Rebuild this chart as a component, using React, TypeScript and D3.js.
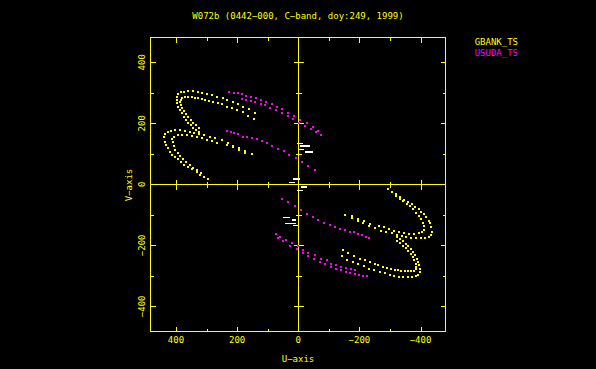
import React from 'react';
import * as d3 from 'd3';

const gbankOuterHigh: [number, number][] = [
  [141.5, 234.8], [160.1, 246.9], [179.7, 254.5], [196.1, 262.3], [214.4, 268.9],
  [232.0, 276.4], [247.1, 282.0], [266.7, 286.3], [283.0, 291.8], [299.3, 296.1],
  [313.7, 300.4], [328.8, 303.6], [343.1, 305.0], [359.5, 305.0], [373.5, 303.6],
  [384.3, 301.7], [392.2, 296.1], [397.4, 287.2], [398.0, 276.4], [395.4, 265.6],
  [392.2, 254.5], [387.6, 243.6], [381.7, 232.8], [375.2, 221.7], [368.0, 211.8],
  [360.5, 202.6], [352.3, 194.4], [344.1, 186.2], [334.3, 179.0], [324.5, 172.5],
];

const gbankInnerHigh: [number, number][] = [
  [144.8, 214.1], [163.4, 224.9], [181.7, 236.1], [201.3, 243.6], [217.6, 249.2],
  [234.0, 254.5], [250.3, 262.3], [261.4, 265.6], [277.8, 270.8], [291.8, 274.1],
  [304.9, 277.4], [315.7, 279.7], [326.8, 282.0], [337.6, 284.0], [348.4, 285.3],
  [359.5, 285.3], [370.3, 285.3], [379.1, 283.0], [384.3, 277.4], [386.6, 269.9],
  [384.3, 260.0], [380.1, 249.2], [374.5, 239.4], [368.0, 229.5], [360.5, 219.7],
  [351.6, 209.9], [343.1, 201.0], [334.3, 193.5], [324.5, 185.6],
];

const gbankOuterLow: [number, number][] = [
  [152.3, 100.3], [174.2, 109.2], [193.8, 119.0], [212.4, 125.6], [230.7, 136.4],
  [250.3, 144.3], [272.2, 151.8], [288.6, 155.1], [307.2, 160.7], [324.5, 165.9],
  [339.9, 169.2], [353.9, 171.5], [370.3, 174.8], [386.6, 177.1], [402.9, 177.1],
  [416.0, 175.8], [426.8, 171.5], [435.6, 165.9], [437.9, 155.1], [435.6, 138.7],
  [432.4, 127.9], [426.8, 119.0], [419.3, 105.9], [411.8, 97.1], [402.9, 89.5],
  [394.1, 82.0], [383.3, 73.1], [372.6, 64.3], [359.5, 56.7], [346.4, 51.2],
  [332.0, 40.3], [321.2, 31.5], [307.2, 23.9], [294.1, 16.4],
];

const gbankInnerLow: [number, number][] = [
  [175.3, 102.6], [194.9, 112.5], [214.4, 121.3], [234.0, 128.9], [265.7, 135.4],
  [282.0, 141.0], [298.4, 146.9], [314.7, 151.8], [331.0, 156.1], [347.4, 159.4],
  [363.7, 161.7], [380.1, 162.6], [394.8, 160.7], [406.2, 156.7], [411.8, 148.5],
  [411.1, 137.1], [407.8, 125.6], [402.9, 114.1], [394.8, 102.6], [386.6, 92.8],
  [376.8, 82.0], [367.0, 72.1], [355.6, 63.3], [344.1, 55.1], [332.7, 46.9],
  [319.6, 38.7],
];

const usudaHighA: [number, number][] = [
  [225.5, 301.7], [211.8, 300.4], [198.0, 298.4], [185.0, 295.1], [169.9, 290.5],
  [154.6, 287.2], [139.2, 282.0], [122.9, 276.4], [106.5, 270.8], [86.9, 262.3],
  [70.6, 254.5], [52.3, 245.9], [32.7, 234.8], [14.1, 224.0], [-5.6, 210.9],
  [-27.5, 201.0], [-49.0, 186.9], [-65.4, 175.8], [-74.2, 163.3],
];

const usudaHighB: [number, number][] = [
  [185.0, 279.7], [170.9, 276.4], [155.6, 273.1], [139.9, 269.9], [123.5, 264.9],
  [107.2, 260.0], [92.5, 249.2], [72.9, 243.6], [54.2, 232.8], [32.7, 224.9],
  [15.7, 214.1], [-2.3, 202.6], [-21.9, 192.8], [-41.5, 181.3], [-59.5, 171.5],
];

const usudaLow: [number, number][] = [
  [232.0, 176.4], [220.9, 172.5], [210.1, 167.2], [196.1, 163.9], [181.7, 156.7],
  [168.6, 155.1], [152.3, 150.8], [135.9, 147.9], [119.6, 141.0], [103.3, 133.8],
  [85.0, 125.6], [65.4, 116.7], [46.7, 107.6], [28.8, 97.1], [7.5, 85.3],
  [-11.1, 72.1], [-32.7, 58.4], [-54.6, 48.5],
];

// short baselines near the origin: [u start, u end, v, thickness]
const shortTracks: [number, number, number, number][] = [
  [4.2, -15.7, 134.4, 1], [-7.2, -40.5, 126.2, 2], [-3.9, -20.9, 114.8, 1],
  [-21.9, -48, 106.6, 2], [18.3, -5.6, 18.4, 2], [30.4, 10.8, 6.6, 1],
  [-8.8, -27.5, -7.9, 2], [5.2, -14.4, -18.7, 1], [49, 24.8, -108, 1],
  [21.6, 7.5, -117, 2], [43.5, 7.5, -127.9, 1], [16.3, 0, -134.4, 1],
];

const majorTicks = [-400, -200, 0, 200, 400];
const minorTicks = [-300, -100, 100, 300];
const seriesNames = ['GBANK_TS', 'USUDA_TS'];
const seriesColors = ['#ffff00', '#ff00ff'];

const W = 596;
const H = 369;
const YEL = '#ffff00';
const FONT = '"DejaVu Sans Mono", monospace';

const x = d3.scaleLinear().domain([485, -480]).range([150, 445]);
const y = d3.scaleLinear().domain([-481, 483]).range([331, 37]);
const px = (u: number) => Math.round(x(u)) + 0.5;
const py = (v: number) => Math.round(y(v)) + 0.5;
const fmt = (d: number) => (d < 0 ? '\u2212' + Math.abs(d) : String(d));

const withConjugate = (pts: [number, number][]) => [
  ...pts,
  ...pts.map(([u, v]) => [-u, -v] as [number, number]),
];

const series = [
  [gbankOuterHigh, gbankInnerHigh, gbankOuterLow, gbankInnerLow].flatMap(withConjugate),
  [usudaHighA, usudaHighB, usudaLow].flatMap(withConjugate),
];

export default function App() {
  const [x0, x1] = x.range();
  const [y1, y0] = y.range();
  const left = Math.round(x0) + 0.5;
  const right = Math.round(x1) + 0.5;
  const top = Math.round(y0) + 0.5;
  const bottom = Math.round(y1) + 0.5;

  return (
    <div style={{ position: 'fixed', left: 0, top: 0, width: W, height: H, background: '#000' }}>
      <svg width={W} height={H} style={{ display: 'block' }} shapeRendering="crispEdges">
        <rect width={W} height={H} fill="#000" />

        {/* frame and the axes through the origin */}
        <g stroke={YEL} strokeWidth={1} fill="none">
          <rect x={left} y={top} width={right - left} height={bottom - top} />
          <line x1={px(0)} x2={px(0)} y1={top} y2={bottom} />
          <line x1={left} x2={right} y1={py(0)} y2={py(0)} />
          {[...majorTicks, ...minorTicks].filter((t) => t !== 0).map((t) => {
            const big = majorTicks.includes(t);
            const len = big ? 5 : 3;
            return (
              <g key={t}>
                <line x1={px(t)} x2={px(t)} y1={bottom} y2={bottom - len} />
                <line x1={px(t)} x2={px(t)} y1={top} y2={top + len} />
                <line x1={left} x2={left + len} y1={py(t)} y2={py(t)} />
                <line x1={right} x2={right - len} y1={py(t)} y2={py(t)} />
                <line x1={px(t)} x2={px(t)} y1={py(0) - len} y2={py(0) + len} />
                <line x1={px(0) - len} x2={px(0) + len} y1={py(t)} y2={py(t)} />
              </g>
            );
          })}
        </g>

        {/* uv points */}
        {series.map((pts, i) => (
          <g key={seriesNames[i]} fill={seriesColors[i]}>
            {pts.map(([u, v], j) => (
              <rect key={j} x={Math.round(x(u)) - 1} y={Math.round(y(v)) - 1} width={2} height={2} />
            ))}
          </g>
        ))}

        <g fill="#fff">
          {shortTracks.map(([u1, u2, v, t], i) => (
            <rect
              key={i}
              x={Math.round(Math.min(x(u1), x(u2)))}
              y={Math.round(y(v)) - (t > 1 ? 1 : 0)}
              width={Math.round(Math.abs(x(u2) - x(u1)))}
              height={t}
            />
          ))}
        </g>

        {/* text */}
        <g fill={YEL} fontFamily={FONT} fontSize={9}>
          <text x={298} y={19} textAnchor="middle">{'W072b (0442\u2212000, C\u2212band, doy:249, 1999)'}</text>
          {majorTicks.map((t) => (
            <text key={'xl' + t} x={x(t)} y={343.3} textAnchor="middle">{fmt(t)}</text>
          ))}
          {majorTicks.map((t) => (
            <text key={'yl' + t} transform={`translate(145,${y(t)}) rotate(-90)`} textAnchor="middle">{fmt(t)}</text>
          ))}
          <text x={298} y={362} textAnchor="middle">{'U\u2212axis'}</text>
          <text transform="translate(131.7,185) rotate(-90)" textAnchor="middle">{'V\u2212axis'}</text>
          {seriesNames.map((name, i) => (
            <text key={name} x={474.7} y={45 + i * 11} fill={seriesColors[i]}>{name}</text>
          ))}
        </g>
      </svg>
    </div>
  );
}
